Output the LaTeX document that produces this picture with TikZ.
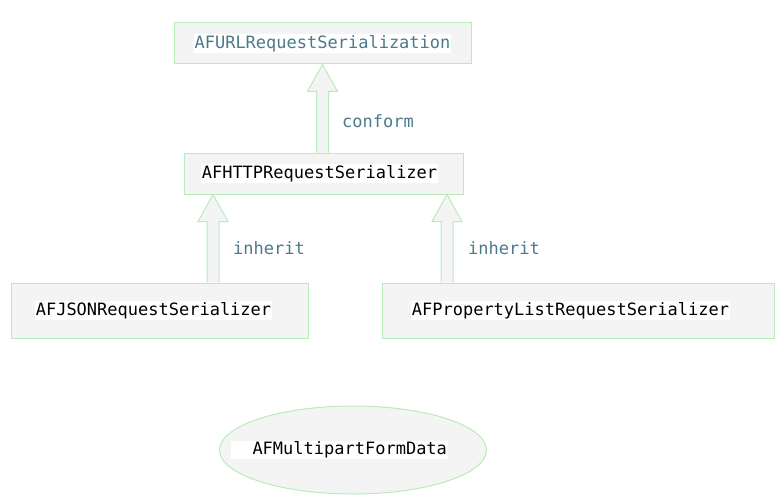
\documentclass[tikz,border=0pt]{standalone}
\usepackage{fontspec}
\setmonofont{DejaVu Sans Mono}
\usepackage{xcolor}
\usetikzlibrary{shapes.geometric,calc}
\definecolor{boxgreen}{RGB}{184,236,184}
\definecolor{boxgray}{RGB}{244,244,244}
\definecolor{labelteal}{RGB}{76,122,136}
\newcommand{\hl}[1]{{\setlength{\fboxsep}{1pt}\colorbox{white}{#1}}}
% hollow block arrow: #1 foot, #2 tip
\newcommand{\hollowarrow}[2]{%
	\draw [arrowbody] ($(#1)+(-6,0)$) -- ($(#2)+(-6,27)$) -- ($(#2)+(-15,27)$) -- (#2)
		-- ($(#2)+(15,27)$) -- ($(#2)+(6,27)$) -- ($(#1)+(6,0)$);}
\tikzset{
	classbox/.style={draw=boxgreen, fill=boxgray, line width=1pt, inner sep=0pt,
		font={\fontsize{17}{20}\selectfont\ttfamily}},
	arrowbody/.style={draw=boxgreen, fill=boxgray, line width=1pt, line join=miter},
	relation/.style={text=labelteal, inner sep=0pt, anchor=west,
		font={\fontsize{17}{20}\selectfont\ttfamily}}
}
\begin{document}
\begin{tikzpicture}[x=1pt,y=-1pt]
	\useasboundingbox (0,0) rectangle (784,500);
	%Protocollo
	\node [classbox, text=labelteal, minimum width=297pt, minimum height=41pt] (urlser) at (322.5,43.5) {\hl{AFURLRequestSerialization}};
	%Classi
	\node [classbox, minimum width=279pt, minimum height=41pt] (httpser) at (323.5,173.5) {\makebox[0pt]{\hl{AFHTTPRequestSerializer}\hspace*{8pt}}};
	\node [classbox, minimum width=297pt, minimum height=55pt] (jsonser) at (159.5,310.5) {\makebox[0pt]{\hl{AFJSONRequestSerializer}\hspace*{12pt}}};
	\node [classbox, minimum width=392pt, minimum height=55pt] (plistser) at (578,310.5) {\makebox[0pt]{\hl{AFPropertyListRequestSerializer}\hspace*{15pt}}};
	\node [classbox, ellipse, minimum width=267pt, minimum height=88pt] (formdata) at (353,450) {\makebox[0pt]{\hl{\ \ AFMultipartFormData}\hspace*{27pt}}};
	%Frecce
	\coordinate (jsonx) at (213,0);
	\coordinate (plistx) at (447,0);
	\hollowarrow{httpser.north -| urlser.south}{urlser.south}
	\hollowarrow{jsonser.north -| jsonx}{httpser.south -| jsonx}
	\hollowarrow{plistser.north -| plistx}{httpser.south -| plistx}
	%Etichette
	\node [relation] (conform) at (342,121) {conform};
	\node [relation] (inheritjson) at (233,248) {inherit};
	\node [relation] (inheritplist) at (468,248) {inherit};
\end{tikzpicture}
\end{document}
